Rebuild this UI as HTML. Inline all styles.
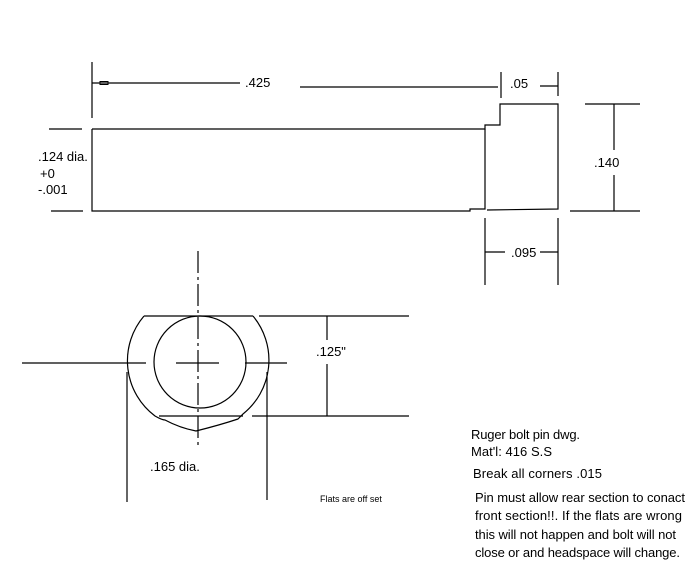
<!DOCTYPE html>
<html><head><meta charset="utf-8"><style>
html,body{margin:0;padding:0;background:#fff;}
svg{display:block;}
text{font-family:"Liberation Sans Narrow","Liberation Sans",sans-serif;fill:#000;}
</style></head><body>
<svg width="700" height="570" viewBox="0 0 700 570" xmlns="http://www.w3.org/2000/svg">
<g stroke="#000" stroke-width="1.2" fill="none">
<!-- top view -->
<line x1="92" y1="62" x2="92" y2="118"/>
<line x1="92" y1="83" x2="240" y2="83"/>
<rect x="100" y="81.5" width="8" height="3" stroke-width="1"/>
<line x1="300" y1="87" x2="498" y2="87"/>
<line x1="501" y1="72" x2="501" y2="98"/>
<line x1="540" y1="86" x2="558" y2="86"/>
<line x1="558" y1="72" x2="558" y2="96"/>
<path d="M92 129 L485 129 L485 125 L500 125 L500 104 L558 104 L558 209 L487 210"/>
<path d="M92 129 L92 211 L470 211 L470 209 L485 209 L485 129"/>
<line x1="49" y1="129" x2="82" y2="129"/>
<line x1="51" y1="211" x2="83" y2="211"/>
<line x1="585" y1="104" x2="640" y2="104"/>
<line x1="614" y1="104" x2="614" y2="150"/>
<line x1="614" y1="175" x2="614" y2="211"/>
<line x1="570" y1="211" x2="640" y2="211"/>
<line x1="485" y1="218" x2="485" y2="285"/>
<line x1="558" y1="218" x2="558" y2="285"/>
<line x1="485" y1="252" x2="505" y2="252"/>
<line x1="540" y1="252" x2="558" y2="252"/>
<!-- end view -->
<line x1="198" y1="251" x2="198" y2="446" stroke-dasharray="22,4,3,4"/>
<line x1="22" y1="363" x2="146" y2="363"/>
<line x1="176" y1="363" x2="219" y2="363"/>
<line x1="245" y1="363" x2="287" y2="363"/>
<circle cx="200" cy="362" r="46"/>
<path d="M144 316 L253 316 M144 316 A69 69 0 0 0 155 416 Q162 420 165 420 Q180 428 196 431 Q220 425 238 419 L243 414 A69 69 0 0 0 253 316"/>
<line x1="159" y1="416" x2="243" y2="416"/>
<line x1="259" y1="316" x2="409" y2="316"/>
<line x1="252" y1="416" x2="409" y2="416"/>
<line x1="327" y1="316" x2="327" y2="340"/>
<line x1="327" y1="364" x2="327" y2="416"/>
<line x1="127" y1="372" x2="127" y2="502"/>
<line x1="267" y1="372" x2="267" y2="500"/>
</g>
<g font-size="13">
<text x="245" y="87">.425</text>
<text x="510" y="88">.05</text>
<text x="594" y="167">.140</text>
<text x="511" y="257">.095</text>
<text x="38" y="161">.124 dia.</text>
<text x="40" y="178">+0</text>
<text x="38" y="194">-.001</text>
<text x="316" y="356">.125"</text>
<text x="150" y="471">.165 dia.</text>
<text x="320" y="502" font-size="9">Flats are  off set</text>
<text x="471" y="439" textLength="109">Ruger bolt pin dwg.</text>
<text x="471" y="456" textLength="81">Mat'l: 416 S.S</text>
<text x="473" y="478" textLength="129">Break all corners .015</text>
<text x="475" y="502" textLength="210">Pin must allow rear section to conact</text>
<text x="475" y="520" textLength="207">front section!!. If the flats are wrong</text>
<text x="475" y="539" textLength="201">this will not happen and bolt will not</text>
<text x="475" y="557" textLength="205">close or and headspace will change.</text>
</g>
</svg>
</body></html>
